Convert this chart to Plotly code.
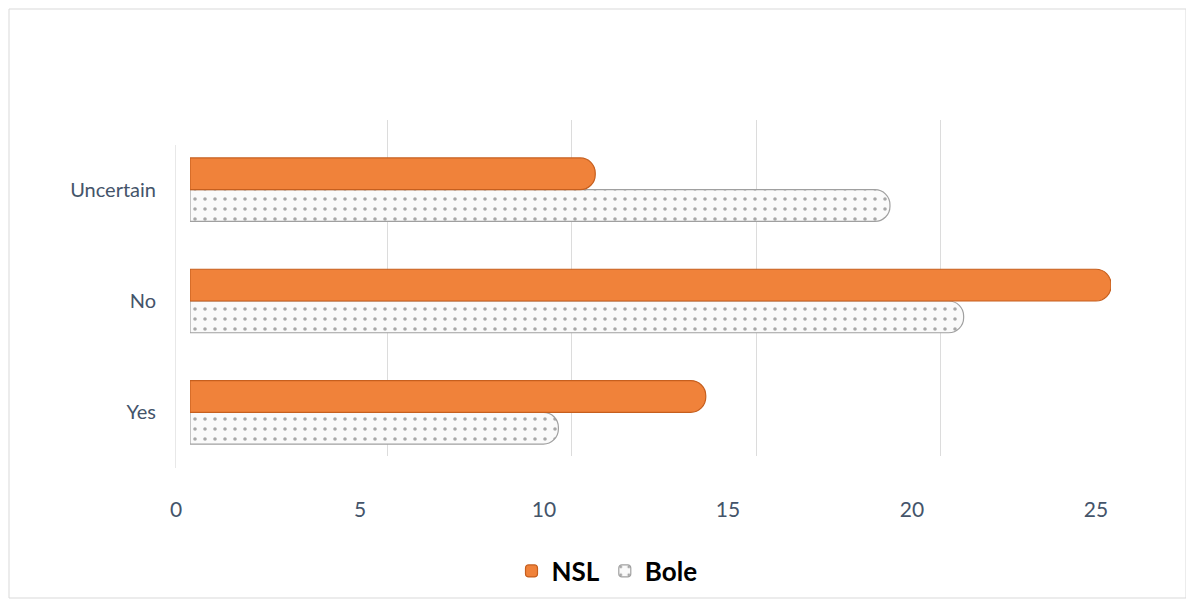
import plotly.graph_objects as go

categories = ["Yes", "No", "Uncertain"]
nsl_values = [14, 25, 11]
bole_values = [10, 21, 19]
tick_vals = [0, 5, 10, 15, 20, 25]

# page is rendered with an 8px body margin
OFF = 8
W, H = 1194 - 2 * OFF, 608 - 2 * OFF

# plot region in page pixels
PX0, PX1 = 176, 1125
PY0, PY1 = 120, 468
pw, ph = PX1 - PX0, PY1 - PY0
L = PX0 - OFF
R = W - (PX1 - OFF)
T = PY0 - OFF
B = H - (PY1 - OFF)


def dx(px):
    return (px - PX0) / pw


def dy(py):
    return (PY1 - py) / ph


fig = go.Figure()

# back-wall grid subplot (x, y)
fig.add_trace(go.Scatter(x=[0], y=[0], mode="markers", marker=dict(opacity=0),
                         showlegend=False, hoverinfo="skip", xaxis="x", yaxis="y"))
# front axis subplot for tick labels (x3, y3)
fig.add_trace(go.Scatter(x=[0], y=[0], mode="markers", marker=dict(opacity=0),
                         showlegend=False, hoverinfo="skip", xaxis="x3", yaxis="y3"))

# bars (x2, y2)
fig.add_trace(go.Bar(
    name="Bole", y=categories, x=bole_values, orientation="h",
    marker=dict(color="white",
                line=dict(color="#a0a0a0", width=1.2),
                pattern=dict(shape=".", fgcolor="#555555", bgcolor="#fafafa",
                             size=10, solidity=0.1)),
    xaxis="x2", yaxis="y2"))
fig.add_trace(go.Bar(
    name="NSL", y=categories, x=nsl_values, orientation="h",
    marker=dict(color="#F0823A", line=dict(color="#C65F1E", width=1.2)),
    xaxis="x2", yaxis="y2"))

fig.update_layout(
    width=W, height=H,
    margin=dict(l=L, r=R, t=T, b=B, autoexpand=False),
    paper_bgcolor="white", plot_bgcolor="rgba(0,0,0,0)",
    barmode="group", bargap=0.43, bargroupgap=0.0, barcornerradius=15,
    font=dict(family="Lato, Open Sans, sans-serif", color="#44546A", size=19),
    # grid on the back wall
    xaxis=dict(domain=[dx(203), 1], range=[0, 25], tickvals=tick_vals,
               showgrid=True, gridcolor="#dcdcdc", gridwidth=1.3,
               showticklabels=False, zeroline=False, anchor="y"),
    yaxis=dict(domain=[dy(456), 1], range=[0, 1], showgrid=False,
               showticklabels=False, zeroline=False, anchor="x"),
    # bars
    xaxis2=dict(domain=[dx(190), dx(1111)], range=[0, 25], showgrid=False,
                showticklabels=False, zeroline=False, anchor="y2"),
    yaxis2=dict(domain=[0, dy(134)], anchor="x2",
                categoryorder="array", categoryarray=categories,
                showgrid=False, ticklabelstandoff=33,
                tickfont=dict(size=20, color="#44546A")),
    # front axis with value labels
    xaxis3=dict(domain=[0, dx(1096)], range=[0, 25], tickvals=tick_vals,
                showgrid=False, zeroline=False, anchor="y3",
                ticklabelstandoff=27,
                tickfont=dict(size=21, color="#44546A")),
    yaxis3=dict(domain=[0, dy(145)], range=[0, 1], showgrid=False,
                showticklabels=False, zeroline=False, anchor="x3",
                showline=True, linecolor="#e8e8e8", linewidth=1),
    legend=dict(orientation="h", x=dx(607), xanchor="center",
                y=dy(571), yanchor="middle",
                bgcolor="rgba(0,0,0,0)",
                traceorder="reversed",
                font=dict(size=26, color="#000000",
                          family="Lato, Open Sans, sans-serif", weight="bold")),
    shapes=[dict(type="rect", xref="paper", yref="paper",
                 x0=dx(9), x1=dx(1186), y0=dy(598), y1=dy(9),
                 line=dict(color="#d9d9d9", width=1), layer="below")],
)

fig.write_html("out.html")
